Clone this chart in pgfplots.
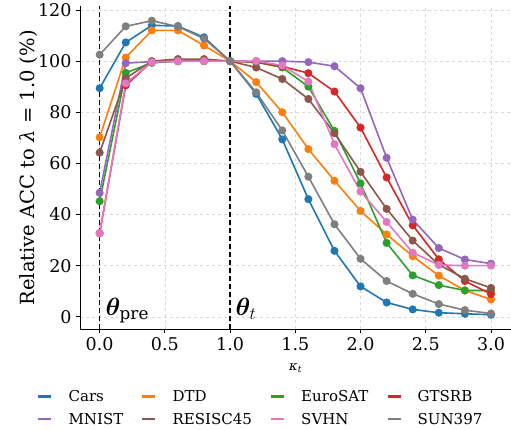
\documentclass[border=0pt]{standalone}
\usepackage{amsmath,bm}
\usepackage{fontspec}
\setmainfont{DejaVu Serif}
\usepackage{pgfplots}
\pgfplotsset{compat=1.18}
\definecolor{c1}{HTML}{1F77B4}
\definecolor{c2}{HTML}{FF7F0E}
\definecolor{c3}{HTML}{2CA02C}
\definecolor{c4}{HTML}{D62728}
\definecolor{c5}{HTML}{9467BD}
\definecolor{c6}{HTML}{8C564B}
\definecolor{c7}{HTML}{E377C2}
\definecolor{c8}{HTML}{7F7F7F}
\begin{document}
\begin{tikzpicture}
\begin{axis}[
  scale only axis,
  width=430pt, height=323pt,
  xmin=-0.15, xmax=3.15, ymin=-4.95, ymax=121.5,
  axis x line*=bottom, axis y line*=left,
  axis line style={line width=0.9pt},
  xtick={0,0.5,1,1.5,2,2.5,3},
  xticklabels={0.0,0.5,1.0,1.5,2.0,2.5,3.0},
  ytick={0,20,40,60,80,100,120},
  tick align=outside, tick style={black, line width=0.9pt},
  major tick length=4pt,
  grid=major,
  grid style={dashed, gray!30, line width=0.6pt},
  /pgf/number format/assume math mode=true,
  ticklabel style={font=\fontsize{17.5}{19}\selectfont},
  yticklabel style={xshift=-1pt},
  ylabel={Relative ACC to \textit{λ} = 1.0 (\%)},
  ylabel style={font=\fontsize{19.5}{21}\selectfont, yshift=-6pt},
  xlabel={\textit{κ\raisebox{-0.25ex}{\fontsize{9}{10}\selectfont t}}},
  xlabel style={font=\fontsize{13}{14}\selectfont, yshift=-7pt},
  every axis plot/.append style={line width=1.6pt, mark=*, mark size=3.2pt},
  legend columns=4,
  legend cell align=left,
  legend style={draw=none, fill=none, font=\fontsize{15}{17}\selectfont,
    at={(axis description cs:0.42,-0.175)}, anchor=north,
    /tikz/every odd column/.append style={column sep=14pt},
    /tikz/every even column/.append style={column sep=16pt},
    row sep=6pt},
  legend image code/.code={\draw[#1, mark=none, line width=2.2pt] (0pt,0pt) -- (13pt,0pt);},
]
\addplot[c1, mark options={fill=c1}] coordinates {(0,89.4)(0.2,107.3)(0.4,114)(0.6,113.7)(0.8,109.3)(1,100)(1.2,87.2)(1.4,69.4)(1.6,46)(1.8,25.8)(2,11.9)(2.2,5.6)(2.4,2.9)(2.6,1.6)(2.8,1.2)(3,0.8)};
\addlegendentry{Cars}
\addplot[c2, mark options={fill=c2}] coordinates {(0,70.2)(0.2,101.4)(0.4,112)(0.6,112)(0.8,106.1)(1,100)(1.2,91.8)(1.4,80)(1.6,65.6)(1.8,53.2)(2,41.4)(2.2,32.2)(2.4,23.7)(2.6,16.1)(2.8,10.3)(3,6.8)};
\addlegendentry{DTD}
\addplot[c3, mark options={fill=c3}] coordinates {(0,45.2)(0.2,95.4)(0.4,99.3)(0.6,100)(0.8,100)(1,100)(1.2,99.6)(1.4,97.5)(1.6,90)(1.8,72.7)(2,52.2)(2.2,28.9)(2.4,16.2)(2.6,12.4)(2.8,10.3)(3,10.3)};
\addlegendentry{EuroSAT}
\addplot[c4, mark options={fill=c4}] coordinates {(0,32.7)(0.2,90.5)(0.4,99.8)(0.6,100)(0.8,100)(1,100)(1.2,99.6)(1.4,97.9)(1.6,95.3)(1.8,88.1)(2,74)(2.2,54.5)(2.4,35.8)(2.6,22.5)(2.8,14)(3,8.9)};
\addlegendentry{GTSRB}
\addplot[c5, mark options={fill=c5}] coordinates {(0,48.5)(0.2,99.2)(0.4,99.8)(0.6,100)(0.8,100)(1,100)(1.2,100)(1.4,100)(1.6,99.6)(1.8,98)(2,89.4)(2.2,62.2)(2.4,38)(2.6,26.9)(2.8,22.4)(3,20.8)};
\addlegendentry{MNIST}
\addplot[c6, mark options={fill=c6}] coordinates {(0,64.2)(0.2,93.3)(0.4,100)(0.6,100.8)(0.8,100.8)(1,100)(1.2,97.5)(1.4,93)(1.6,85.2)(1.8,71.8)(2,56.7)(2.2,42.2)(2.4,29.8)(2.6,20.4)(2.8,14.9)(3,11.3)};
\addlegendentry{RESISC45}
\addplot[c7, mark options={fill=c7}] coordinates {(0,32.7)(0.2,91.3)(0.4,99.6)(0.6,100)(0.8,100)(1,100)(1.2,100)(1.4,98.3)(1.6,92)(1.8,67.5)(2,49)(2.2,37.1)(2.4,25.1)(2.6,20.3)(2.8,20)(3,20)};
\addlegendentry{SVHN}
\addplot[c8, mark options={fill=c8}] coordinates {(0,102.5)(0.2,113.6)(0.4,115.8)(0.6,113.5)(0.8,108.8)(1,100)(1.2,87.8)(1.4,72.9)(1.6,54.8)(1.8,36.2)(2,22.7)(2.2,14)(2.4,9)(2.6,5)(2.8,2.6)(3,1.3)};
\addlegendentry{SUN397}
\draw[black, dash pattern=on 5pt off 3pt, line width=1.3pt] (axis cs:0,-4.95) -- (axis cs:0,121.5);
\draw[black, dash pattern=on 5pt off 3pt, line width=1.3pt] (axis cs:1,-4.95) -- (axis cs:1,121.5);
\node[anchor=base west, font=\fontsize{24}{26}\selectfont, inner sep=0pt] at (axis cs:0.045,0.6) {$\bm{\theta}_{\mathrm{pre}}$};
\node[anchor=base west, font=\fontsize{24}{26}\selectfont, inner sep=0pt] at (axis cs:1.04,0.6) {$\bm{\theta}_{t}$};
\end{axis}
\path (-80pt,0pt) -- (0pt,0pt);
\end{tikzpicture}
\end{document}
